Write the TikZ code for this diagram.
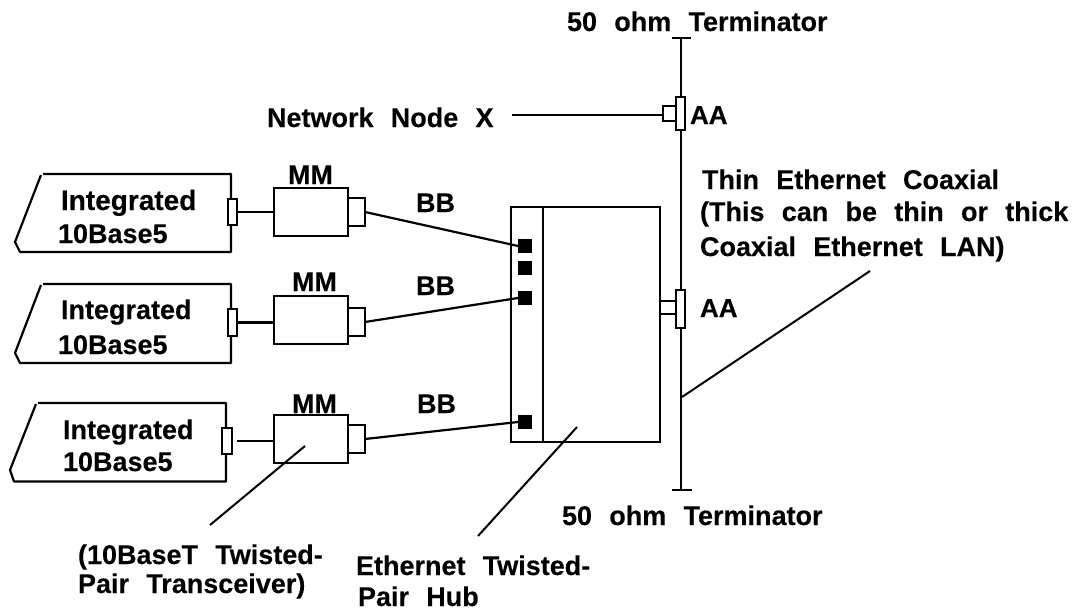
\documentclass[tikz,border=0pt]{standalone}
\usepackage{fontspec}
\setmainfont{Liberation Sans}[WordSpace=2.3,FakeBold=0.25]
\tikzset{
  x=1pt,y=-1pt,
  line/.style={draw=black,line width=2.2pt},
  thinline/.style={draw=black,line width=2pt},
  boxr/.style={line,fill=white,rectangle,inner sep=0pt,outer sep=0pt},
  port/.style={fill=black,rectangle,inner sep=0pt,outer sep=0pt,minimum width=14pt,minimum height=14pt},
  lbl/.style={inner sep=0pt,outer sep=0pt,anchor=base west,font=\fontsize{27}{27}\selectfont\bfseries,text=black},
  lblb/.style={lbl,font=\fontsize{28}{28}\selectfont\bfseries},
  lbla/.style={lbl,font=\fontsize{26}{26}\selectfont\bfseries},
}
\newcommand{\boxat}[6]{\node[boxr,minimum width=#4pt-#2pt,minimum height=#5pt-#3pt] (#1) at ({(#2+#4)/2},{(#3+#5)/2}) {#6};}
\begin{document}
\begin{tikzpicture}
\useasboundingbox (0,0) rectangle (1077,613);
% computers
\draw[line,line join=round] (43,174) -- (231,174) -- (231,252) -- (20,252) -- (15,242) -- (41,175);
\draw[line,line join=round] (43,284) -- (231,284) -- (231,363) -- (20,363) -- (15,353) -- (41,285);
\draw[line,line join=round] (38,403) -- (226,403) -- (226,481.5) -- (14,481.5) -- (10,470) -- (36,404);
% connectors on computers
\boxat{ca}{228}{199}{237}{225}{}
\boxat{cb}{228}{309}{237}{336}{}
\boxat{cc}{222}{428}{232}{454}{}
% transceivers
\boxat{ma}{274}{188}{348}{236}{}
\boxat{mb}{274}{296}{348}{344}{}
\boxat{mc}{274}{415}{348}{463}{}
\boxat{sa}{348}{198}{365}{226}{}
\boxat{sb}{348}{308}{365}{336}{}
\boxat{sc}{348}{425}{365}{453}{}
\draw[line] (ca.east) -- (ca.east -| ma.west);
\draw[line] (cb.east) -- (cb.east -| mb.west);
\path (cc.east) ++(5,0) coordinate (cce);
\draw[line] (cce) -- (cce -| mc.west);
% hub
\boxat{hub}{511}{207}{660}{442}{}
\coordinate (dt) at (543,207);
\coordinate (db) at (543,442);
\draw[line] (dt) -- (db);
\node[port] (pa) at (525,246) {};
\node[port] (pb) at (525,268) {};
\node[port] (pc) at (525,298) {};
\node[port] (pd) at (525,422) {};
\draw[line] (sa.east) -- (pa.west);
\draw[line] (sb.east) -- (pc.west);
\draw[line] (sc.east) -- (pd.west);
% coax
\coordinate (ct) at (681,38);
\coordinate (cb2) at (681,490);
\coordinate (ctl) at (672,38);\coordinate (ctr) at (691,38);
\coordinate (cbl) at (672,490);\coordinate (cbr) at (692,490);
\draw[line] (ct) -- (cb2);
\draw[line] (ctl) -- (ctr);
\draw[line] (cbl) -- (cbr);
% taps
\boxat{tqa}{663}{106}{676}{121}{}
\boxat{ta}{676}{97}{685}{130}{}
\boxat{tqb}{660}{301}{676}{314}{}
\boxat{tb}{676}{290}{685}{328}{}
\coordinate (nx) at (512,115);
\draw[line] (nx) -- (nx -| tqa.west);
% leaders
\coordinate (la1) at (305,446);\coordinate (la2) at (210,525);
\coordinate (lb1) at (577,427);\coordinate (lb2) at (478,536);
\coordinate (lc1) at (682,397);\coordinate (lc2) at (870,271);
\draw[thinline] (la1) -- (la2);
\draw[thinline] (lb1) -- (lb2);
\draw[thinline] (lc1) -- (lc2);
% labels
\node[lbl] (t1) at (567,31) {50 ohm Terminator};
\node[lbl] (t2) at (267,127) {Network Node X};
\node[lbla] (t3) at (690,124) {AA};
\node[lbl] (t4) at (702,189) {Thin Ethernet Coaxial};
\node[lbl] (t5) at (700,221) {(This can be thin or thick};
\node[lbl] (t6) at (700,256) {Coaxial Ethernet LAN)};
\node[lbla] (t7) at (700,317) {AA};
\node[lbl] (t8) at (562,525) {50 ohm Terminator};
\node[lbl] (m1) at (288,184) {MM};
\node[lbl] (m2) at (292,291) {MM};
\node[lbl] (m3) at (292,413) {MM};
\node[lbl] (b1) at (416,212) {BB};
\node[lbl] (b2) at (416,295) {BB};
\node[lbl] (b3) at (417,413) {BB};
\node[lblb] (i1) at (61,210) {Integrated};
\node[lbl] (j1) at (58,243) {10Base5};
\node[lbl] (i2) at (61,319) {Integrated};
\node[lbl] (j2) at (58,354) {10Base5};
\node[lbl] (i3) at (63,439) {Integrated};
\node[lbl] (j3) at (63,471) {10Base5};
\node[lbl] (l1) at (78,564) {(10BaseT Twisted-};
\node[lbl] (l2) at (78,593) {Pair Transceiver)};
\node[lbl] (l3) at (356,575) {Ethernet Twisted-};
\node[lbl] (l4) at (358,606) {Pair Hub};
\end{tikzpicture}
\end{document}
